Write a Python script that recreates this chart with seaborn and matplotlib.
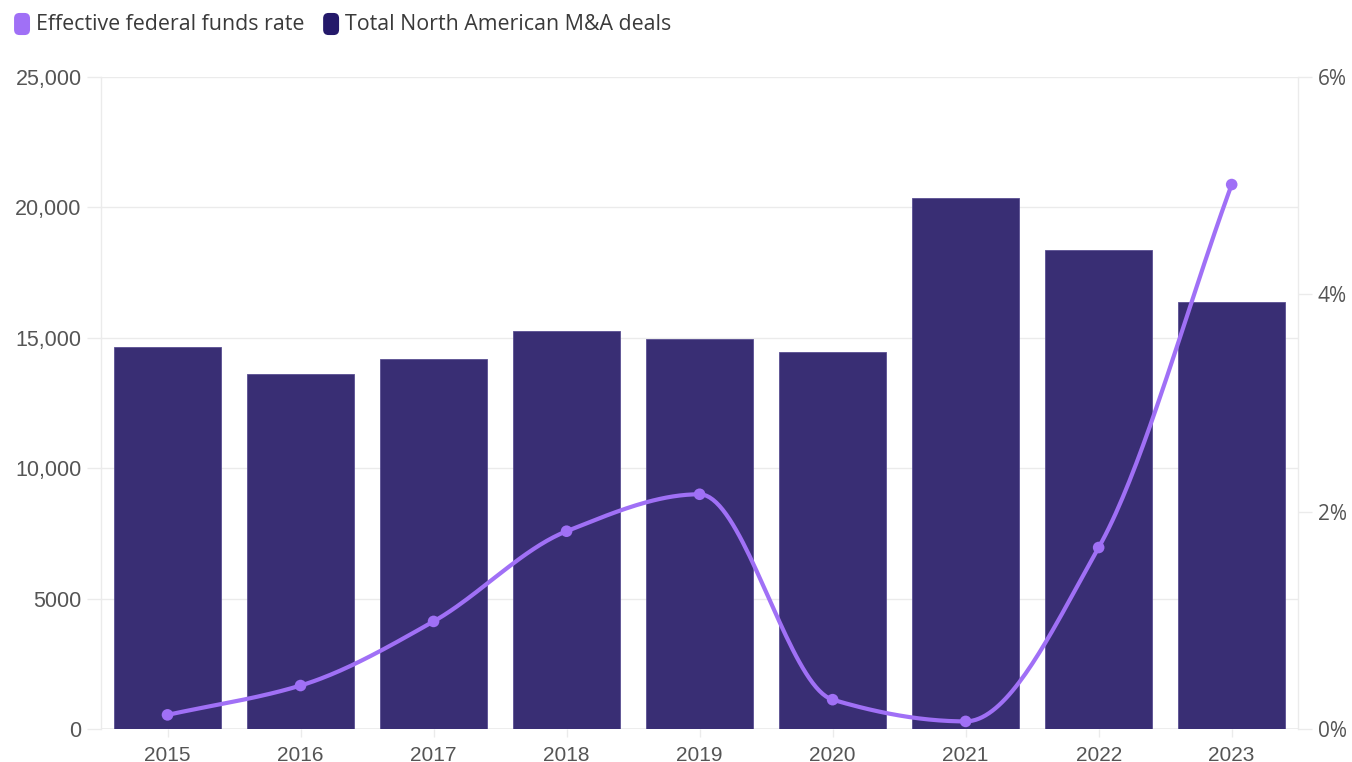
import numpy as np
import pandas as pd
import matplotlib
matplotlib.use("Agg")
import matplotlib.pyplot as plt
from matplotlib.patches import FancyBboxPatch
import seaborn as sns

years = ["2015", "2016", "2017", "2018", "2019", "2020", "2021", "2022", "2023"]
ma_deals = [14650, 13610, 14190, 15260, 14950, 14460, 20360, 18370, 16370]
fed_rate = [0.13, 0.40, 0.99, 1.82, 2.16, 0.27, 0.07, 1.67, 5.01]

left_ticks = [0, 5000, 10000, 15000, 20000, 25000]
left_labels = ["0", "5000", "10,000", "15,000", "20,000", "25,000"]
right_ticks = [0, 2, 4, 6]
right_labels = ["0%", "2%", "4%", "6%"]

BAR_COLOR = "#392e74"
LEGEND_BAR = "#24196a"
LINE_COLOR = "#a070f6"
GRID = "#ebebeb"
TICK_TXT = "#555555"

sns.set_theme(style="white")
plt.rcParams["font.family"] = ["Liberation Sans", "DejaVu Sans"]
ROUND_FONT = ["Open Sans", "DejaVu Sans"]


def monotone_curve(x, y, n=40):
    """Monotone cubic (Fritsch-Carlson) path through the points, for drawing."""
    x = np.asarray(x, float)
    y = np.asarray(y, float)
    h = np.diff(x)
    d = np.diff(y) / h
    m = np.zeros_like(y)
    m[0], m[-1] = d[0], d[-1]
    for i in range(1, len(y) - 1):
        if d[i - 1] * d[i] <= 0:
            m[i] = 0.0
        else:
            w1 = 2 * h[i] + h[i - 1]
            w2 = h[i] + 2 * h[i - 1]
            m[i] = (w1 + w2) / (w1 / d[i - 1] + w2 / d[i])
    xs, ys = [], []
    for i in range(len(x) - 1):
        t = np.linspace(0, 1, n, endpoint=(i == len(x) - 2))
        h00 = 2 * t**3 - 3 * t**2 + 1
        h10 = t**3 - 2 * t**2 + t
        h01 = -2 * t**3 + 3 * t**2
        h11 = t**3 - t**2
        xs.append(x[i] + t * h[i])
        ys.append(h00 * y[i] + h10 * h[i] * m[i] + h01 * y[i + 1] + h11 * h[i] * m[i + 1])
    return np.concatenate(xs), np.concatenate(ys)


df = pd.DataFrame({"year": years, "deals": ma_deals, "rate": fed_rate})
df["pos"] = np.arange(len(years))

fig = plt.figure(figsize=(13.52, 7.62), dpi=100)
ax = fig.add_axes([0.0747, 0.0433, 0.8855, 0.8557])

sns.barplot(data=df, x="year", y="deals", color=BAR_COLOR, width=0.8,
            saturation=1, ax=ax, zorder=2, edgecolor="#5a4f92", linewidth=0.6)

ax.set_xlim(-0.5, len(years) - 0.5)
ax.set_ylim(0, 25000)
ax.set_yticks(left_ticks)
ax.set_yticklabels(left_labels)
ax.set_xlabel("")
ax.set_ylabel("")
ax.yaxis.grid(True, color=GRID, linewidth=1, zorder=0)
ax.set_axisbelow(True)
for side in ["top", "right", "bottom"]:
    ax.spines[side].set_visible(False)
ax.spines["left"].set_color(GRID)
ax.spines["left"].set_linewidth(1)
ax.tick_params(axis="y", which="both", left=True, length=10, width=1, color=GRID,
               labelsize=15.5, labelcolor=TICK_TXT, pad=4)
ax.tick_params(axis="x", which="both", bottom=True, length=6, width=1, color=GRID,
               labelsize=15, labelcolor=TICK_TXT, pad=6)
ax.axhline(0, color=GRID, linewidth=1.2, zorder=1)

ax2 = ax.twinx()
ax2.set_ylim(0, 6)
ax2.set_yticks(right_ticks)
ax2.set_yticklabels(right_labels, family=ROUND_FONT)
for side in ["top", "left", "bottom"]:
    ax2.spines[side].set_visible(False)
ax2.spines["right"].set_color(GRID)
ax2.spines["right"].set_linewidth(1)
ax2.tick_params(axis="y", right=True, length=10, width=1, color=GRID,
                labelsize=15, labelcolor=TICK_TXT, pad=4)
ax2.grid(False)

cx, cy = monotone_curve(df["pos"], df["rate"])
sns.lineplot(x=cx, y=cy, ax=ax2, color=LINE_COLOR, linewidth=3, sort=False,
             estimator=None, zorder=3)
sns.scatterplot(data=df, x="pos", y="rate", ax=ax2, color=LINE_COLOR, s=70,
                edgecolor="none", zorder=4)
ax2.set_xlabel("")
ax2.set_ylabel("")

# legend row across the top
def legend_item(x, color, label):
    patch = FancyBboxPatch((x, 0.954), 0.0118, 0.029, boxstyle="round,pad=0,rounding_size=0.004",
                           transform=fig.transFigure, facecolor=color, edgecolor="none",
                           mutation_aspect=1352 / 762)
    fig.patches.append(patch)
    fig.text(x + 0.0165, 0.968, label, ha="left", va="center", fontsize=15.4,
             color="#3a3a3a", family=ROUND_FONT)

legend_item(0.0104, LINE_COLOR, "Effective federal funds rate")
legend_item(0.2390, LEGEND_BAR, "Total North American M&A deals")

fig.savefig("out.png", dpi=100, facecolor="white")
